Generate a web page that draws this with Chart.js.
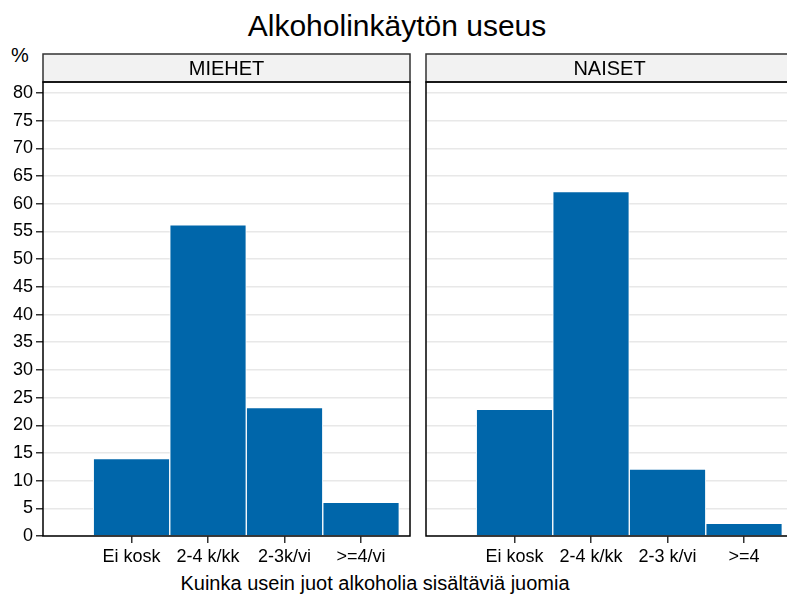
<!DOCTYPE html>
<html>
<head>
<meta charset="utf-8">
<script src="https://cdn.jsdelivr.net/npm/chart.js@4"></script>
<style>
  html, body { margin: 0; padding: 0; width: 787px; height: 596px; overflow: hidden; background: #fff; }
  body { position: relative; font-family: 'Liberation Sans', Arial, sans-serif; color: #000; }
  .txt { position: absolute; white-space: nowrap; line-height: 1; }
  #title { top: 11px; left: 0; width: 794px; text-align: center; font-size: 30px; }
  #pct { top: 45px; left: 11px; font-size: 20px; }
  #xtitle { top: 573px; left: 0; width: 750px; text-align: center; font-size: 20px; }
  canvas { position: absolute; top: 40px; }
  #men { left: 0; }
  #women { left: 416px; }
</style>
</head>
<body>
<div class="txt" id="title">Alkoholinkäytön useus</div>
<div class="txt" id="pct">%</div>
<div class="txt" id="xtitle">Kuinka usein juot alkoholia sisältäviä juomia</div>
<canvas id="men" width="420" height="556"></canvas>
<canvas id="women" width="400" height="556"></canvas>
<script>
const categoriesMen = ['Ei kosk', '2-4 k/kk', '2-3k/vi', '>=4/vi'];
const categoriesWomen = ['Ei kosk', '2-4 k/kk', '2-3 k/vi', '>=4'];
const valuesMen = [14.0, 56.2, 23.2, 6.1];
const valuesWomen = [22.9, 62.2, 12.1, 2.3];
const panelNames = ['MIEHET', 'NAISET'];

const FONT = "'Liberation Sans', Arial, sans-serif";
const BAR = '#0066aa';

// harmaa otsikkopalkki + kehys piirtoalueen ympärille
const stripPlugin = {
  id: 'strip',
  afterDraw(chart, args, opts) {
    const { ctx, chartArea: a } = chart;
    ctx.save();
    ctx.fillStyle = '#f2f2f2';
    ctx.fillRect(a.left, a.top - 28, a.right - a.left, 28);
    ctx.strokeStyle = '#333';
    ctx.lineWidth = 1.5;
    ctx.strokeRect(a.left, a.top - 28, a.right - a.left, 28);
    ctx.strokeStyle = '#000';
    ctx.strokeRect(a.left, a.top, a.right - a.left, a.bottom - a.top);
    ctx.fillStyle = '#000';
    ctx.font = '20px ' + FONT;
    ctx.textAlign = 'center';
    ctx.textBaseline = 'middle';
    ctx.fillText(opts.text, (a.left + a.right) / 2, a.top - 13);
    ctx.restore();
  }
};

function makePanel(id, labels, values, name, showY, padLeft, padRight) {
  const ctx = document.getElementById(id).getContext('2d');
  return new Chart(ctx, {
    type: 'bar',
    data: {
      datasets: [{
        data: values.map((v, i) => ({ x: i + 1, y: v })),
        backgroundColor: BAR,
        borderColor: '#fff',
        borderWidth: 1,
        barPercentage: 1,
        categoryPercentage: 1
      }]
    },
    options: {
      responsive: false,
      animation: false,
      layout: { padding: { top: 42, left: padLeft, right: padRight, bottom: 0 } },
      plugins: {
        legend: { display: false },
        title: { display: false },
        tooltip: { enabled: true },
        strip: { text: name }
      },
      scales: {
        x: {
          type: 'linear',
          offset: false,
          min: -0.157,
          max: 4.64,
          grid: { offset: false, drawOnChartArea: false, tickLength: 7, tickColor: '#333', lineWidth: 1.5 },
          border: { display: false },
          afterBuildTicks: axis => { axis.ticks = labels.map((l, i) => ({ value: i + 1 })); },
          afterFit: axis => { axis.height = 60; },
          ticks: {
            autoSkip: false,
            maxRotation: 0,
            padding: 3,
            color: '#000',
            font: { size: 18, family: FONT },
            callback: v => labels[v - 1]
          }
        },
        y: {
          min: 0,
          max: 82,
          grid: { color: '#e8e8e8', lineWidth: 1.5, tickColor: '#333', tickLength: 7, drawTicks: showY },
          border: { display: false },
          afterFit: axis => { axis.width = showY ? 43 : 0; },
          ticks: {
            display: showY,
            stepSize: 5,
            includeBounds: false,
            padding: 3,
            color: '#000',
            font: { size: 18, family: FONT }
          }
        }
      }
    },
    plugins: [stripPlugin]
  });
}

makePanel('men', categoriesMen, valuesMen, panelNames[0], true, 0, 10);
makePanel('women', categoriesWomen, valuesWomen, panelNames[1], false, 10, 23);
</script>
</body>
</html>
